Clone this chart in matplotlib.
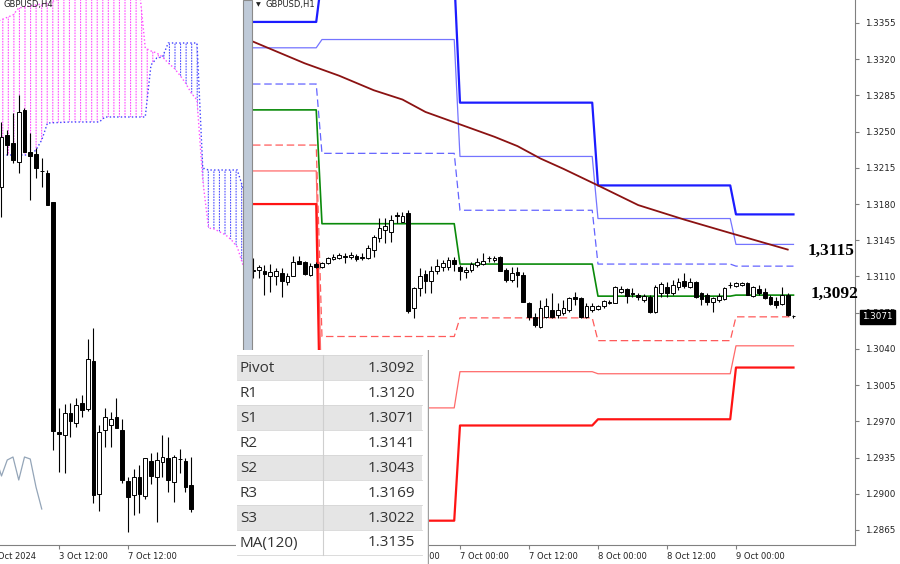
import numpy as np
import matplotlib.pyplot as plt
from matplotlib.patches import Rectangle
from matplotlib.transforms import blended_transform_factory

W, H = 900, 564

# ---------------- H1 chart (bar 0 = 7 Oct 00:00, one bar per hour) ----------------
h1_first = -36
h1_open = [1.3115, 1.3116, 1.3115, 1.3110, 1.3110, 1.3113, 1.3105, 1.3110, 1.3125, 1.3124,
           1.3111, 1.3122, 1.3119, 1.3123, 1.3127, 1.3128, 1.3130, 1.3129, 1.3130, 1.3129,
           1.3128, 1.3136, 1.3147, 1.3155, 1.3153, 1.3169, 1.3163, 1.3171, 1.3080, 1.3099,
           1.3112, 1.3106, 1.3115, 1.3119, 1.3119, 1.3126, 1.3119, 1.3114, 1.3116, 1.3121,
           1.3122, 1.3128, 1.3126, 1.3129, 1.3116, 1.3107, 1.3114, 1.3111, 1.3084, 1.3071,
           1.3061, 1.3071, 1.3078, 1.3073, 1.3075, 1.3078, 1.3090, 1.3089, 1.3071, 1.3078,
           1.3079, 1.3081, 1.3084, 1.3084, 1.3095, 1.3098, 1.3094, 1.3092, 1.3087, 1.3090,
           1.3076, 1.3094, 1.3100, 1.3094, 1.3100, 1.3106, 1.3100, 1.3105, 1.3094, 1.3092,
           1.3085, 1.3087, 1.3088, 1.3102, 1.3101, 1.3102, 1.3104, 1.3091, 1.3098, 1.3095,
           1.3090, 1.3086, 1.3083, 1.3092, 1.3072]
h1_high = [1.3128, 1.3121, 1.3121, 1.3122, 1.3118, 1.3118, 1.3113, 1.3130, 1.3130, 1.3125,
           1.3123, 1.3124, 1.3124, 1.3129, 1.3132, 1.3133, 1.3133, 1.3134, 1.3132, 1.3133,
           1.3140, 1.3150, 1.3167, 1.3167, 1.3169, 1.3172, 1.3172, 1.3174, 1.3100, 1.3118,
           1.3116, 1.3120, 1.3127, 1.3126, 1.3129, 1.3129, 1.3121, 1.3119, 1.3124, 1.3128,
           1.3133, 1.3130, 1.3130, 1.3130, 1.3118, 1.3119, 1.3119, 1.3114, 1.3085, 1.3075,
           1.3087, 1.3089, 1.3094, 1.3084, 1.3087, 1.3090, 1.3095, 1.3090, 1.3084, 1.3084,
           1.3082, 1.3087, 1.3087, 1.3101, 1.3101, 1.3099, 1.3099, 1.3094, 1.3093, 1.3092,
           1.3102, 1.3105, 1.3105, 1.3107, 1.3109, 1.3113, 1.3109, 1.3106, 1.3095, 1.3094,
           1.3090, 1.3094, 1.3100, 1.3105, 1.3105, 1.3105, 1.3105, 1.3101, 1.3102, 1.3099,
           1.3092, 1.3090, 1.3100, 1.3094, 1.3073]
h1_low = [1.3109, 1.3109, 1.3092, 1.3095, 1.3102, 1.3090, 1.3102, 1.3110, 1.3122, 1.3111,
          1.3110, 1.3118, 1.3118, 1.3122, 1.3126, 1.3127, 1.3123, 1.3127, 1.3125, 1.3126,
          1.3127, 1.3129, 1.3143, 1.3142, 1.3143, 1.3162, 1.3163, 1.3075, 1.3070, 1.3091,
          1.3094, 1.3094, 1.3112, 1.3115, 1.3116, 1.3115, 1.3107, 1.3109, 1.3114, 1.3119,
          1.3121, 1.3124, 1.3124, 1.3115, 1.3105, 1.3105, 1.3100, 1.3085, 1.3068, 1.3061,
          1.3060, 1.3070, 1.3070, 1.3070, 1.3073, 1.3076, 1.3082, 1.3070, 1.3070, 1.3076,
          1.3078, 1.3080, 1.3083, 1.3084, 1.3094, 1.3084, 1.3090, 1.3087, 1.3085, 1.3075,
          1.3075, 1.3090, 1.3090, 1.3092, 1.3097, 1.3099, 1.3099, 1.3089, 1.3082, 1.3082,
          1.3076, 1.3085, 1.3087, 1.3099, 1.3100, 1.3101, 1.3092, 1.3090, 1.3092, 1.3088,
          1.3082, 1.3080, 1.3082, 1.3072, 1.3070]
h1_close = [1.3116, 1.3119, 1.3112, 1.3114, 1.3115, 1.3106, 1.3110, 1.3124, 1.3122, 1.3112,
            1.3120, 1.3119, 1.3123, 1.3128, 1.3129, 1.3131, 1.3129, 1.3131, 1.3127, 1.3128,
            1.3138, 1.3148, 1.3157, 1.3159, 1.3165, 1.3168, 1.3168, 1.3077, 1.3099, 1.3110,
            1.3106, 1.3115, 1.3120, 1.3123, 1.3126, 1.3122, 1.3115, 1.3116, 1.3122, 1.3124,
            1.3125, 1.3128, 1.3128, 1.3115, 1.3107, 1.3113, 1.3111, 1.3085, 1.3071, 1.3063,
            1.3080, 1.3081, 1.3071, 1.3078, 1.3080, 1.3089, 1.3088, 1.3071, 1.3081, 1.3081,
            1.3081, 1.3086, 1.3085, 1.3100, 1.3098, 1.3091, 1.3093, 1.3090, 1.3091, 1.3076,
            1.3100, 1.3103, 1.3094, 1.3102, 1.3105, 1.3101, 1.3105, 1.3090, 1.3088, 1.3085,
            1.3089, 1.3091, 1.3099, 1.3102, 1.3104, 1.3104, 1.3092, 1.3100, 1.3094, 1.3089,
            1.3083, 1.3082, 1.3092, 1.3073, 1.3072]

# daily pivot levels (3, 4, 7, 8, 9 Oct), each starts at these bars
day_start = [-36, -24, 0, 24, 48]
r3 = [1.3356, 1.3400, 1.3278, 1.3198, 1.3170]
r2 = [1.3331, 1.3339, 1.3226, 1.3166, 1.3141]
r1 = [1.3296, 1.3229, 1.3174, 1.3122, 1.3120]
pivot = [1.3271, 1.3161, 1.3122, 1.3091, 1.3092]
s1 = [1.3237, 1.3052, 1.3070, 1.3048, 1.3071]
s2 = [1.3212, 1.2983, 1.3018, 1.3016, 1.3043]
s3 = [1.3180, 1.2874, 1.2966, 1.2972, 1.3022]

ma_bar = [-36, -27, -21, -15, -10, -6, 0, 6, 10, 14, 18, 24, 31, 39, 47, 57]
ma_val = [1.3337, 1.3316, 1.3304, 1.3290, 1.3281, 1.3269, 1.3257, 1.3245, 1.3236, 1.3224,
          1.3214, 1.3198, 1.3179, 1.3165, 1.3152, 1.3136]

h1_tick_bar = [-36, -12, 0, 12, 24, 36, 48]
h1_tick_lbl = ['3 Oct 12:00', '4 Oct 12:00', '7 Oct 00:00', '7 Oct 12:00',
               '8 Oct 00:00', '8 Oct 12:00', '9 Oct 00:00']
price_ticks = [1.2865, 1.2900, 1.2935, 1.2970, 1.3005, 1.3040, 1.3075, 1.3110,
               1.3145, 1.3180, 1.3215, 1.3250, 1.3285, 1.3320, 1.3355]
last_price = 1.3071

# ---------------- H4 chart (bar 0 = 3 Oct 12:00, 4 hours per bar) ----------------
h4_first = -10
h4_open = [1.32971, 1.33335, 1.33279, 1.33146, 1.33510, 1.33216, 1.33202, 1.33083, 1.33069,
           1.32866, 1.31256, 1.31235, 1.31389, 1.31319, 1.31459, 1.31417, 1.31753, 1.30822,
           1.31270, 1.31305, 1.31361, 1.31270, 1.30913, 1.30815, 1.30941, 1.30808, 1.31053,
           1.30941, 1.31046, 1.31074, 1.30906, 1.31067, 1.31053, 1.30885]
h4_high = [1.33426, 1.33370, 1.33489, 1.33615, 1.33524, 1.33349, 1.33244, 1.33174, 1.33090,
           1.32866, 1.31424, 1.31452, 1.31459, 1.31494, 1.31515, 1.31907, 1.31984, 1.31305,
           1.31424, 1.31396, 1.31494, 1.31347, 1.30941, 1.30997, 1.31025, 1.31074, 1.31109,
           1.31116, 1.31235, 1.31221, 1.31095, 1.31137, 1.31074, 1.31081]
h4_low = [1.32761, 1.33195, 1.33139, 1.33069, 1.33216, 1.32880, 1.33034, 1.32971, 1.32845,
          1.31130, 1.30976, 1.30969, 1.31221, 1.31291, 1.31361, 1.31403, 1.30759, 1.30703,
          1.31151, 1.31151, 1.31284, 1.30899, 1.30556, 1.30675, 1.30689, 1.30787, 1.30892,
          1.30626, 1.30941, 1.30836, 1.30766, 1.30969, 1.30836, 1.30696]
h4_close = [1.33321, 1.33265, 1.33160, 1.33496, 1.33216, 1.33188, 1.33104, 1.33083, 1.32845,
            1.31263, 1.31242, 1.31389, 1.31333, 1.31445, 1.31410, 1.31767, 1.30815, 1.31256,
            1.31361, 1.31347, 1.31284, 1.30920, 1.30801, 1.30941, 1.30822, 1.31074, 1.30948,
            1.31060, 1.31081, 1.30920, 1.31081, 1.31067, 1.30871, 1.30717]

cloud_bar = [-11, -8, -7, -5, -4, -3, -2, 2, 7, 8, 14, 15, 16, 17, 18, 19, 20, 21, 22, 23,
             24, 25, 26, 27, 28, 29, 30, 31, 32]
span_a = [1.34126, 1.34175, 1.34224, 1.34238, 1.34245, 1.34252, 1.34259, 1.34315, 1.34350,
          1.34350, 1.34350, 1.33944, 1.33923, 1.33909, 1.33881, 1.33839, 1.33804, 1.33755,
          1.33699, 1.33629, 1.33580, 1.33020, 1.32684, 1.32677, 1.32656, 1.32635, 1.32600,
          1.32551, 1.32425]
span_b = [1.33195, 1.33195, 1.33195, 1.33195, 1.33230, 1.33300, 1.33419, 1.33426, 1.33426,
          1.33461, 1.33461, 1.33461, 1.33825, 1.33874, 1.33881, 1.33979, 1.33979, 1.33979,
          1.33979, 1.33979, 1.33979, 1.33104, 1.33090, 1.33090, 1.33090, 1.33090, 1.33090,
          1.33090, 1.32964]
chikou_shift = 26

h4_tick_bar = [0, 12]
h4_tick_lbl = ['3 Oct 12:00', '7 Oct 12:00']

# ---------------- table ----------------
table_names = ['Pivot', 'R1', 'S1', 'R2', 'S2', 'R3', 'S3', 'MA(120)']
table_vals = ['1.3092', '1.3120', '1.3071', '1.3141', '1.3043', '1.3169', '1.3022', '1.3135']


plt.rcParams['hatch.linewidth'] = 0.8
AX_COL = '#808080'


def draw_candles(ax, first, o, h, l, c, width=0.62):
    x = np.arange(first, first + len(o))
    o, h, l, c = map(np.asarray, (o, h, l, c))
    ax.vlines(x, l, h, color='black', lw=0.8, zorder=4)
    up = c >= o
    lo = np.minimum(o, c)
    ht = np.abs(c - o)
    ax.bar(x[up], ht[up], width, bottom=lo[up], facecolor='white',
           edgecolor='black', lw=0.7, zorder=5)
    ax.bar(x[~up], ht[~up], width, bottom=lo[~up], facecolor='black',
           edgecolor='black', lw=0.7, zorder=5)


def style_axis(ax):
    for s in ['top', 'left', 'right']:
        ax.spines[s].set_visible(False)
    ax.spines['bottom'].set_color(AX_COL)
    ax.tick_params(axis='x', length=3, width=0.8, color=AX_COL, labelsize=6,
                   pad=2, labelcolor='#222222')


fig = plt.figure(figsize=(W / 100, H / 100), dpi=100)

# ---- left H4 panel
ax_l = fig.add_axes([0, 19 / H, 243 / W, 545 / H])
ax_l.set_xlim(-10.26, 32.0)
ax_l.set_ylim(1.30465, 1.3428)
style_axis(ax_l)
ax_l.set_yticks([])

cx, ca, cb = np.array(cloud_bar), np.array(span_a), np.array(span_b)
ax_l.fill_between(cx, ca, cb, where=ca >= cb, interpolate=True, facecolor='none',
                  edgecolor='#ff4dff', hatch='|||', lw=0, zorder=1)
ax_l.fill_between(cx, ca, cb, where=cb >= ca, interpolate=True, facecolor='none',
                  edgecolor='#5050ff', hatch='|||', lw=0, zorder=1)
ax_l.fill_between(cx, ca, cb, facecolor='none', edgecolor='white', hatch='------',
                  lw=0, zorder=1.5)
ax_l.plot(cx, ca, color='#ff4dff', ls=':', lw=1, zorder=2)
ax_l.plot(cx, cb, color='#4040ff', ls=':', lw=1, zorder=2)

h4_bars = np.arange(h4_first, h4_first + len(h4_close))
ax_l.plot(h4_bars - chikou_shift, h4_close, color='#94a5b8', lw=0.9, zorder=3)
draw_candles(ax_l, h4_first, h4_open, h4_high, h4_low, h4_close)

ax_l.set_xticks(h4_tick_bar)
ax_l.set_xticklabels(h4_tick_lbl, ha='left')
ax_l.text(-12, -0.013, '1 Oct 2024', transform=blended_transform_factory(ax_l.transData, ax_l.transAxes),
          ha='left', va='top', fontsize=6, color='#222222', clip_on=False)
fig.text(3 / W, 1 - 5 / H, 'GBPUSD,H4', fontsize=6, color='#222222', va='center', ha='left')

# separator between the two windows
fig.add_artist(Rectangle((243 / W, 19 / H), 9 / W, 545 / H, transform=fig.transFigure,
                         facecolor='#bfcad8', edgecolor='#8a8a8a', lw=0.8, zorder=5))

# ---- right H1 panel
ax_r = fig.add_axes([252 / W, 19 / H, 603 / W, 545 / H])
ax_r.set_xlim(-36.17, 68.7)
ax_r.set_ylim(1.28505, 1.33772)
style_axis(ax_r)
ax_r.spines['right'].set_visible(True)
ax_r.spines['right'].set_color(AX_COL)

bars = np.arange(h1_first, h1_first + len(h1_open))
day_idx = np.searchsorted(day_start, bars, side='right') - 1
levels = [
    (r3, '#1c1cff', 1.6, '-'),
    (r2, '#7474ff', 0.9, '-'),
    (r1, '#6464ff', 0.9, (0, (6, 3))),
    (pivot, '#0a8a0a', 1.2, '-'),
    (s1, '#ff5a5a', 0.9, (0, (6, 3))),
    (s2, '#ff6a6a', 0.9, '-'),
    (s3, '#ff1414', 1.6, '-'),
]
for vals, col, lw, ls in levels:
    ax_r.plot(bars, np.asarray(vals)[day_idx], color=col, lw=lw, ls=ls, zorder=2)
ax_r.plot(ma_bar, ma_val, color='#8b1212', lw=1.3, zorder=3)

draw_candles(ax_r, h1_first, h1_open, h1_high, h1_low, h1_close)

ax_r.yaxis.tick_right()
ax_r.set_yticks(price_ticks)
ax_r.set_yticklabels(['%.4f' % v for v in price_ticks])
ax_r.tick_params(axis='y', length=3, width=0.8, color=AX_COL, labelsize=6.3, pad=4,
                 labelcolor='#222222')
ax_r.set_xticks(h1_tick_bar)
ax_r.set_xticklabels(h1_tick_lbl, ha='left')

ax_r.text(60.5, 1.3135, '1,3115', fontfamily='Liberation Serif', fontweight='bold',
          fontsize=12.5, ha='left', va='center', zorder=8)
ax_r.text(60.9, 1.3093, '1,3092', fontfamily='Liberation Serif', fontweight='bold',
          fontsize=12.5, ha='left', va='center', zorder=8)

bt = blended_transform_factory(ax_r.transAxes, ax_r.transData)
ax_r.text(1.0116, last_price, '%.4f' % last_price, transform=bt, color='white',
          fontsize=6.3, ha='left', va='center', clip_on=False, zorder=10,
          bbox=dict(boxstyle='square,pad=0.25', facecolor='black', edgecolor='black'))

fig.text(258 / W, 1 - 5 / H, '\u25bc', fontsize=4.5, color='#222222', va='center', ha='center')
fig.text(265 / W, 1 - 5 / H, 'GBPUSD,H1', fontsize=6, color='#222222', va='center', ha='left')

# ---- level table overlay
ax_t = fig.add_axes([232 / W, 0, (429 - 232) / W, (564 - 350) / H])
ax_t.set_zorder(20)
ax_t.set_xlim(232, 429)
ax_t.set_ylim(564, 350)
ax_t.axis('off')
ax_t.add_patch(Rectangle((236, 350), 193, 214, facecolor='white', edgecolor='none'))
row_top, row_h = 355, 25
for k, (name, val) in enumerate(zip(table_names, table_vals)):
    y0 = row_top + k * row_h
    if k % 2 == 0:
        ax_t.add_patch(Rectangle((237, y0), 185, row_h, facecolor='#e5e5e5', edgecolor='none'))
    ax_t.plot([237, 422], [y0, y0], color='#d6d6d6', lw=0.6)
    ax_t.text(240, y0 + row_h / 2 + 0.5, name, fontfamily='Open Sans', fontsize=11,
              color='#333333', ha='left', va='center')
    ax_t.text(415, y0 + row_h / 2 + 0.5, val, fontfamily='Open Sans', fontsize=11,
              color='#333333', ha='right', va='center')
ax_t.plot([237, 422], [row_top + 8 * row_h] * 2, color='#d6d6d6', lw=0.6)
ax_t.plot([323, 323], [row_top, row_top + 8 * row_h], color='#cfcfcf', lw=0.8)
ax_t.plot([428, 428], [350, 564], color='#a0a0a0', lw=1)

fig.savefig('out.png', dpi=100)
